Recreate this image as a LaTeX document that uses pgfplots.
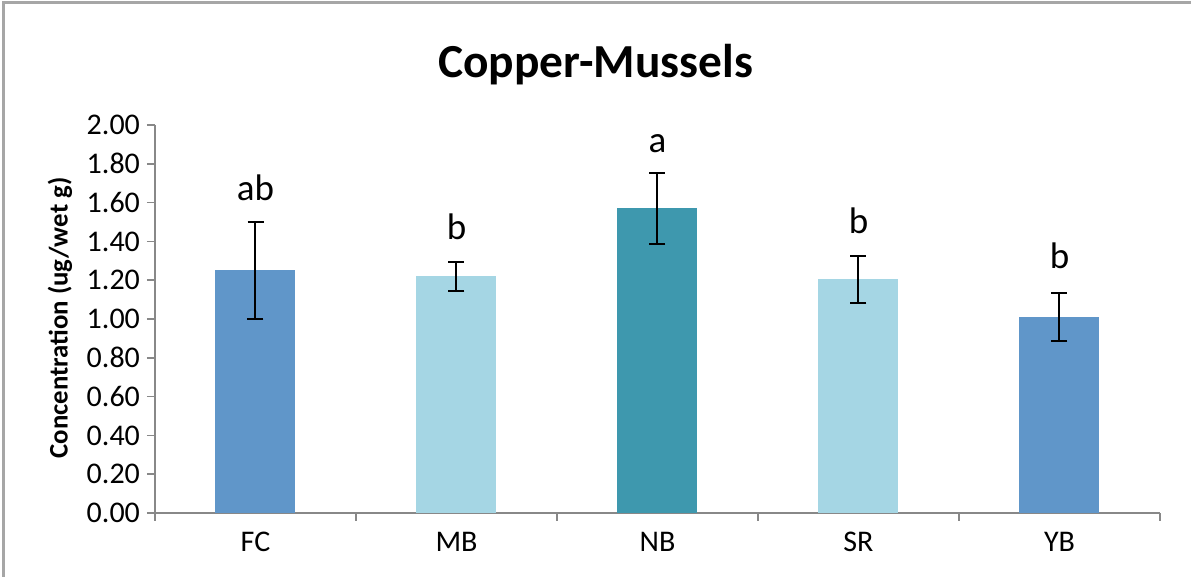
\documentclass[border=0pt]{standalone}
\usepackage{pgfplots}
\pgfplotsset{compat=1.18}
\usepackage{fontspec}
\setmainfont{Carlito}

\definecolor{barblue}{HTML}{6096C9}
\definecolor{barlight}{HTML}{A5D6E4}
\definecolor{barteal}{HTML}{3E98AE}
\definecolor{axisgray}{HTML}{888888}
\definecolor{framegray}{HTML}{A6A6A6}

\begin{document}
\begin{tikzpicture}
\useasboundingbox (0,0) rectangle (595.5pt,288.5pt);
% chart frame (only top and left visible in the crop)
\draw[framegray, line width=1.5pt] (1.5pt,0) -- (1.5pt,287pt) -- (595.5pt,287pt);

\begin{axis}[
  at={(77.5pt,32pt)}, anchor=south west,
  scale only axis,
  width=502.5pt, height=194pt,
  xmin=-0.5, xmax=4.5,
  ymin=0, ymax=2,
  axis x line*=bottom, axis y line*=left,
  axis line style={axisgray, line width=0.8pt, -},
  tick style={axisgray, line width=0.8pt},
  tick align=outside,
  major tick length=4pt,
  xtick={-0.5,0.5,...,4.5},
  xticklabels={},
  extra x ticks={0,1,2,3,4},
  extra x tick labels={FC,MB,NB,SR,YB},
  extra x tick style={major tick length=0pt},
  ytick={0,0.2,...,2.0},
  yticklabel style={/pgf/number format/.cd, fixed, fixed zerofill, precision=2},
  /pgf/number format/assume math mode=true,
  tick label style={font=\fontsize{15}{17}\selectfont},
  xticklabel style={yshift=-6pt},
  bar width=40pt,
  ybar, bar shift=0pt,
  error bars/error bar style={black, line width=1pt},
  error bars/error mark options={black, line width=1pt, mark size=4pt, rotate=90},
]
\addplot[fill=barblue, draw=none, error bars/.cd, y dir=both, y explicit]
  coordinates {(0,1.25) +- (0,0.25)};
\addplot[fill=barlight, draw=none, error bars/.cd, y dir=both, y explicit]
  coordinates {(1,1.22) +- (0,0.075)};
\addplot[fill=barteal, draw=none, error bars/.cd, y dir=both, y explicit]
  coordinates {(2,1.57) +- (0,0.183)};
\addplot[fill=barlight, draw=none, error bars/.cd, y dir=both, y explicit]
  coordinates {(3,1.205) +- (0,0.12)};
\addplot[fill=barblue, draw=none, error bars/.cd, y dir=both, y explicit]
  coordinates {(4,1.01) +- (0,0.125)};

% significance letters
\node[anchor=base, font=\fontsize{18.5}{20}\selectfont] at (axis cs:0,1.61) {ab};
\node[anchor=base, font=\fontsize{18.5}{20}\selectfont] at (axis cs:1,1.41) {b};
\node[anchor=base, font=\fontsize{18.5}{20}\selectfont] at (axis cs:2,1.86) {a};
\node[anchor=base, font=\fontsize{18.5}{20}\selectfont] at (axis cs:3,1.44) {b};
\node[anchor=base, font=\fontsize{18.5}{20}\selectfont] at (axis cs:4,1.26) {b};
\end{axis}

\node[anchor=base, font=\bfseries\fontsize{23.7}{28}\selectfont] at (297.75pt,249.5pt) {Copper-Mussels};
\node[rotate=90, font=\bfseries\fontsize{13.4}{15}\selectfont] at (30pt,129.5pt) {Concentration (ug/wet g)};
\end{tikzpicture}
\end{document}
